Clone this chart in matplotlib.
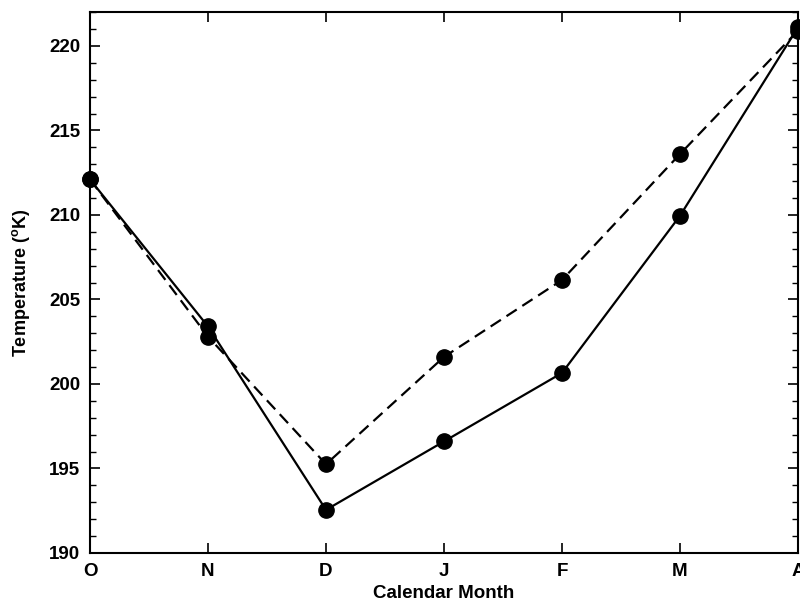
import numpy as np
import matplotlib.pyplot as plt
from matplotlib.ticker import MultipleLocator

plt.rcParams['font.family'] = ['Liberation Sans', 'DejaVu Sans']
plt.rcParams['font.weight'] = 'bold'
plt.rcParams['mathtext.default'] = 'regular'

months = ['O', 'N', 'D', 'J', 'F', 'M', 'A']
solid = [212.1, 203.4, 192.55, 196.6, 200.65, 209.95, 221.1]
dashed = [212.1, 202.8, 195.25, 201.6, 206.15, 213.6, 220.9]

x = np.arange(len(months))

fig = plt.figure(figsize=(8, 6.05), dpi=100)
ax = fig.add_axes([0.1125, 0.086, 0.885, 0.894])

ax.plot(x, solid, 'k-', lw=1.6, marker='o', ms=11, clip_on=False)
ax.plot(x, dashed, color='k', ls=(0, (5.5, 3)), lw=1.6, marker='o', ms=11, clip_on=False)

ax.set_xlim(0, 6)
ax.set_ylim(190, 222)
ax.set_xticks(x)
ax.set_xticklabels(months)
ax.yaxis.set_major_locator(MultipleLocator(5))
ax.yaxis.set_minor_locator(MultipleLocator(1))
ax.tick_params(direction='in', top=True, right=True, length=7, width=1.2, labelsize=13.5)
ax.tick_params(which='minor', direction='in', right=True, length=4, width=1)
ax.tick_params(axis='y', pad=7)
ax.tick_params(axis='x', pad=7)
for s in ax.spines.values():
    s.set_linewidth(1.5)

ax.set_xlabel('Calendar Month', fontsize=13.5, fontweight='bold', labelpad=4)
ax.set_ylabel('Temperature ($^{o}$K)', fontsize=13, fontweight='bold', labelpad=12)

plt.savefig('out.png')
